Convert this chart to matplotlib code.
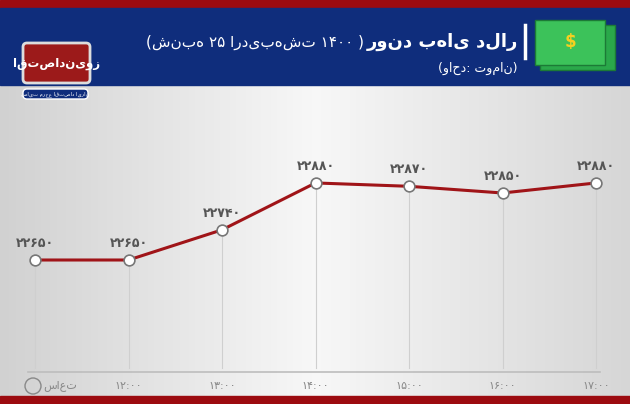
import matplotlib
matplotlib.use("Agg")
import matplotlib.pyplot as plt
import numpy as np
from matplotlib.patches import Rectangle, FancyBboxPatch

times = ["۱۲:۰۰", "۱۳:۰۰", "۱۴:۰۰", "۱۵:۰۰", "۱۶:۰۰", "۱۷:۰۰"]
values = [22650, 22650, 22740, 22880, 22870, 22850, 22880]
value_labels = ["۲۲۶۵۰", "۲۲۶۵۰", "۲۲۷۴۰", "۲۲۸۸۰", "۲۲۸۷۰", "۲۲۸۵۰", "۲۲۸۸۰"]

W, H = 630, 404
fig = plt.figure(figsize=(W/100, H/100), dpi=100)
bg = fig.add_axes([0, 0, 1, 1])
bg.set_xlim(0, W); bg.set_ylim(H, 0); bg.axis("off")
g = np.concatenate([np.linspace(0.82, 0.97, 100), np.linspace(0.97, 0.84, 100)])
img = np.tile(g, (50, 1))
bg.imshow(np.dstack([img, img, img]), extent=[0, W, H, 85], aspect="auto")
bg.add_patch(Rectangle((0, 0), W, 8, color="#9c0b10"))
bg.add_patch(Rectangle((0, 8), W, 77, color="#0f2d7c"))
bg.add_patch(Rectangle((0, 396), W, 8, color="#9c0b10"))
# logo
bg.add_patch(FancyBboxPatch((23, 43), 67, 40, boxstyle="round,pad=0,rounding_size=4", fc="#9c1a1a", ec="#dddddd", lw=2))
bg.text(56.5, 63, "اقتصادنیوز", color="white", fontsize=8.5, ha="center", va="center", fontweight="bold")
bg.add_patch(FancyBboxPatch((23, 89), 65, 10, boxstyle="round,pad=0,rounding_size=4", fc="#0f2d7c", ec="white", lw=1))
bg.text(55.5, 94, "سایت مرجع اقتصاد ایران", color="white", fontsize=3.8, ha="center", va="center")
# money icon
bg.add_patch(Rectangle((540, 25), 75, 45, color="#2aa84a", ec="#1c7a36"))
bg.add_patch(Rectangle((535, 20), 70, 45, color="#3cc25a", ec="#1c7a36"))
bg.text(570, 42, "$", color="#f5d020", fontsize=12, ha="center", va="center", fontweight="bold")
bg.plot([525, 525], [25, 58], color="white", lw=2.5)
bg.text(518, 42, "روند بهای دلار", color="white", fontsize=13, fontweight="bold", ha="right", va="center")
bg.text(364, 42, "(شنبه ۲۵ اردیبهشت ۱۴۰۰ )", color="white", fontsize=11, ha="right", va="center")
bg.text(518, 68, "(واحد: تومان)", color="white", fontsize=9, ha="right", va="center")
bg.plot([28, 600], [372, 372], color="#bdbdbd", lw=1.2)
bg.text(60, 386, "ساعت", color="#888888", fontsize=8, ha="center", va="center")
bg.add_patch(plt.Circle((33, 386), 8, fill=False, ec="#888888", lw=1))

ax = fig.add_axes([0, 0, 1, 1])
ax.patch.set_alpha(0); ax.axis("off")
x = np.arange(len(values))
ax.set_xlim(-35/93.5, (630-35)/93.5)
ax.set_ylim(22650 - 144/0.335, 22650 + 260/0.335)
ybase = 22650 - (368-260)/0.335
for xi, v in zip(x, values):
    ax.plot([xi, xi], [ybase, v], color="#cfcfcf", lw=0.8, zorder=1)
ax.plot(x, values, color="#a01418", lw=2.2, zorder=2)
ax.scatter(x, values, s=60, facecolor="white", edgecolor="#777777", linewidth=1.2, zorder=3)
for xi, v, lab in zip(x, values, value_labels):
    ax.text(xi, v + 30, lab, ha="center", va="bottom", fontsize=9, color="#555555", fontweight="bold")
ytick = 22650 - (386-260)/0.335
for xi, t in zip(x[1:], times):
    ax.text(xi, ytick, t, ha="center", va="center", fontsize=8, color="#888888")

fig.savefig("out.png", dpi=100)
